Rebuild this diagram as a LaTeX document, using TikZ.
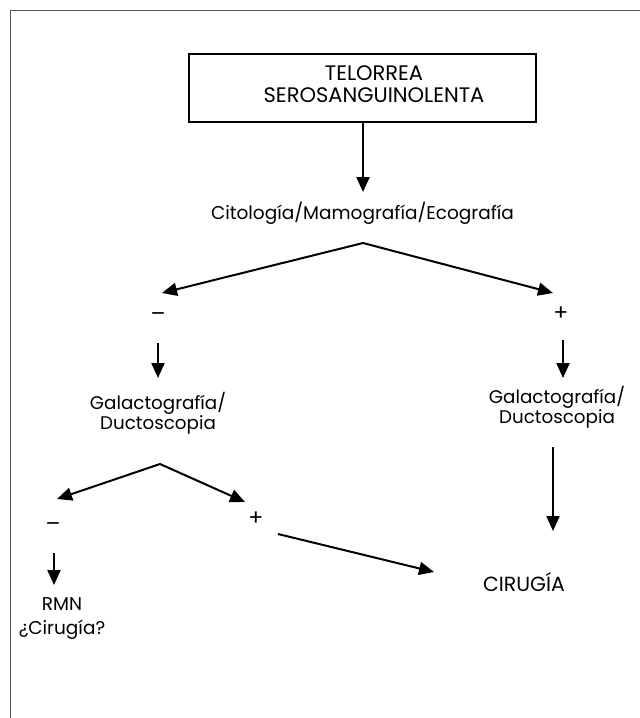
\documentclass[tikz,border=0pt]{standalone}
\usepackage{fontspec}
\setmainfont{Poppins}
\usetikzlibrary{arrows.meta}
\tikzset{
  conn/.style={line width=2pt, -{Triangle[length=15pt,width=13pt]}},
  lbl/.style={inner sep=0pt, outer sep=0pt, text=black, align=center},
  ttl/.style={lbl, font=\fontsize{21}{22}\selectfont},
  citf/.style={lbl, font=\fontsize{18.5}{20}\selectfont},
  galf/.style={lbl, font=\fontsize{18.3}{20}\selectfont},
  rmnf/.style={lbl, font=\fontsize{18.5}{24}\selectfont},
  capf/.style={lbl, font=\fontsize{20.5}{24}\selectfont},
  sgn/.style={lbl, font=\fontsize{22}{22}\selectfont},
  frameline/.style={line width=1.5pt, draw=black!65},
}
\begin{document}
\begin{tikzpicture}[x=1pt,y=-1pt]
\useasboundingbox (0,0) rectangle (640,718);
\draw[frameline] (10.5,718) -- (10.5,10.5) -- (640,10.5);
% top box
\node[draw, line width=1.6pt, minimum width=347pt, minimum height=68pt, inner sep=0pt] (box) at (362.5,88) {};
\node[ttl] (title) at (374,84) {TELORREA\\SEROSANGUINOLENTA};
\coordinate (c1) at (363,192);
\draw[conn] (box.south -| c1) -- (c1);
\node[citf] (cit) at (362.5,213) {Citología/Mamografía/Ecografía};
% first split
\coordinate (a1) at (363,243);
\coordinate (t1l) at (162,293);
\coordinate (t1r) at (553,293);
\draw[conn] (a1) -- (t1l);
\draw[conn] (a1) -- (t1r);
\node[sgn] (m1) at (158,317) {–};
\node[sgn] (p1) at (561,314) {+};
\coordinate (d1s) at (158,343); \coordinate (d1e) at (158,378);
\coordinate (d2s) at (563,340); \coordinate (d2e) at (563,378);
\draw[conn] (d1s) -- (d1e);
\draw[conn] (d2s) -- (d2e);
\node[galf] (g1) at (158,413) {Galactografía/\\Ductoscopia};
\node[galf] (g2) at (557,407) {Galactografía/\\Ductoscopia};
% second split
\coordinate (a2) at (160,464);
\coordinate (t2l) at (57,499);
\coordinate (t2r) at (245,502);
\draw[conn] (a2) -- (t2l);
\draw[conn] (a2) -- (t2r);
\node[sgn] (m2) at (53,527) {–};
\node[sgn] (p2) at (256,519) {+};
\coordinate (d3s) at (54,553); \coordinate (d3e) at (54,585);
\draw[conn] (d3s) -- (d3e);
\node[rmnf] (rmn) at (62,619) {RMN\\¿Cirugía?};
\coordinate (ds) at (278,534); \coordinate (de) at (434,572);
\draw[conn] (ds) -- (de);
\coordinate (vs) at (553,447); \coordinate (ve) at (553,531);
\draw[conn] (vs) -- (ve);
\node[capf] (cir) at (524,582) {CIRUGÍA};
\end{tikzpicture}
\end{document}
